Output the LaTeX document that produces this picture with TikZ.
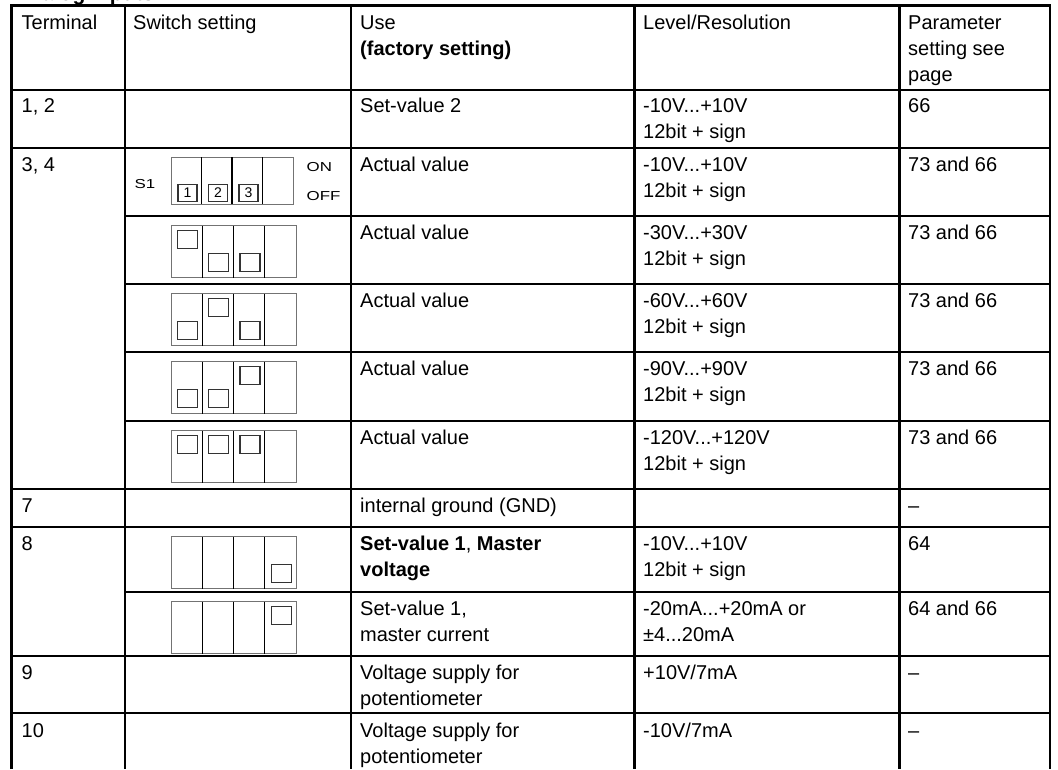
\documentclass[tikz,border=0pt]{standalone}
\usepackage{fontspec}
\setmainfont{Liberation Sans}
\newfontfamily\widefont[FakeStretch=1.3]{Liberation Sans}
\usetikzlibrary{positioning}

\newcommand{\bodyfont}{\fontsize{20}{26}\selectfont}
\newcommand{\swfont}{\widefont\fontsize{13}{15}\selectfont}
\newcommand{\lns}[1]{\begin{tabular}[t]{@{}l@{}}#1\end{tabular}}

% dip switch: #1 = top edge, #2 = lever/offset pairs
\newcommand{\dipswitch}[2]{%
  \draw[swbox] (171,#1) rectangle (296,#1+52);
  \foreach \k in {1,2,3}
    \draw[swdiv] (171+31.25*\k,#1) -- (171+31.25*\k,#1+52);
  \foreach \k/\dy in {#2}
    \draw[swkey] (171+31.25*\k-24.75,#1+\dy) rectangle ++(20,18);
}

\begin{document}
\begin{tikzpicture}[x=1pt,y=-1pt]
  \tikzset{grid/.style={line width=2.7pt},
           cell/.style={anchor=base west,inner sep=0pt,font=\bodyfont},
           swbox/.style={draw=black!55,line width=1pt},
           swdiv/.style={line width=1.2pt},
           swkey/.style={draw=black!80,line width=1.2pt},
           numkey/.style={draw=black!80,line width=1.2pt,minimum width=19pt,minimum height=17pt,inner sep=0pt,font=\fontsize{14}{16}\selectfont}}
  \useasboundingbox (0,0) rectangle (1058,769);

  % heading, cut off by the page edge
  \begin{scope}
    \clip (0,0) rectangle (1058,769);
    \node[anchor=base west,inner sep=0pt,font=\bfseries\fontsize{21}{26}\selectfont] (title) at (14,0) {Analog inputs};
  \end{scope}

  % table rules
  \draw[grid] (11.7,769) -- (11.7,5.5) -- (1050,5.5) -- (1050,769);
  \foreach \x in {125,351,634.5,899.5}
    \draw[grid] (\x,5.5) -- (\x,769);
  \foreach \y in {90,148,489,527,656,713}
    \draw[grid] (11.7,\y) -- (1050,\y);
  \foreach \y in {216,284,352,421,592}
    \draw[grid] (125,\y) -- (1050,\y);

  % header
  \node[cell] (hTerm)   at (21.5,29.5) {Terminal};
  \node[cell] (hSwitch) at (133,29.5)  {Switch setting};
  \node[cell] (hUse)    at (360,29.5)  {\lns{Use\\\textbf{(factory setting)}}};
  \node[cell] (hLevel)  at (643,29.5)  {Level/Resolution};
  \node[cell] (hParam)  at (908,29.5)  {\lns{Parameter\\setting see\\page}};

  % terminals 1, 2
  \node[cell] (t12) at (21.5,112.5) {1, 2};
  \node[cell] (u12) at (360,112.5)  {Set-value 2};
  \node[cell] (l12) at (643,112.5)  {\lns{-10V...+10V\\12bit + sign}};
  \node[cell] (p12) at (908,112.5)  {66};

  % terminals 3, 4 with switch S1
  \node[cell] (t34) at (21.5,171) {3, 4};
  \node[font=\swfont,inner sep=0pt] (s1) at (145,184) {S1};
  \draw[swbox] (171,157) rectangle (293,204);
  \foreach \k in {1,2,3}
    \draw[swdiv] (171+30.5*\k,157) -- (171+30.5*\k,204);
  \node[numkey] (k1) at (187.5,193) {1};
  \node[numkey] (k2) at (218,193)   {2};
  \node[numkey] (k3) at (248.5,193) {3};
  \node[font=\swfont,inner sep=0pt,anchor=west] (on)  at (306.5,166.7) {ON};
  \node[font=\swfont,inner sep=0pt,anchor=west] (off) at (306.5,196)   {OFF};
  \node[cell] (u34a) at (360,171) {Actual value};
  \node[cell] (l34a) at (643,171) {\lns{-10V...+10V\\12bit + sign}};
  \node[cell] (p34a) at (908,171) {73 and 66};

  \dipswitch{225.5}{1/5,2/28,3/28}
  \node[cell] (u34b) at (360,239) {Actual value};
  \node[cell] (l34b) at (643,239) {\lns{-30V...+30V\\12bit + sign}};
  \node[cell] (p34b) at (908,239) {73 and 66};

  \dipswitch{293.5}{1/28,2/5,3/28}
  \node[cell] (u34c) at (360,307) {Actual value};
  \node[cell] (l34c) at (643,307) {\lns{-60V...+60V\\12bit + sign}};
  \node[cell] (p34c) at (908,307) {73 and 66};

  \dipswitch{361.5}{1/28,2/28,3/5}
  \node[cell] (u34d) at (360,375) {Actual value};
  \node[cell] (l34d) at (643,375) {\lns{-90V...+90V\\12bit + sign}};
  \node[cell] (p34d) at (908,375) {73 and 66};

  \dipswitch{430.5}{1/5,2/5,3/5}
  \node[cell] (u34e) at (360,444) {Actual value};
  \node[cell] (l34e) at (643,444) {\lns{-120V...+120V\\12bit + sign}};
  \node[cell] (p34e) at (908,444) {73 and 66};

  % terminal 7
  \node[cell] (t7) at (21.5,512) {7};
  \node[cell] (u7) at (360,512)  {internal ground (GND)};
  \node[cell] (p7) at (908,512)  {--};

  % terminal 8
  \node[cell] (t8) at (21.5,550) {8};
  \dipswitch{536.5}{4/28}
  \node[cell] (u8a) at (360,550) {\lns{\textbf{Set-value 1}, \textbf{Master}\\\textbf{voltage}}};
  \node[cell] (l8a) at (643,550) {\lns{-10V...+10V\\12bit + sign}};
  \node[cell] (p8a) at (908,550) {64};

  \dipswitch{601.5}{4/5}
  \node[cell] (u8b) at (360,615.5) {\lns{Set-value 1,\\master current}};
  \node[cell] (l8b) at (643,615.5) {\lns{-20mA...+20mA or\\±4...20mA}};
  \node[cell] (p8b) at (908,615.5) {64 and 66};

  % terminals 9 and 10
  \node[cell] (t9) at (21.5,679) {9};
  \node[cell] (u9) at (360,679)  {\lns{Voltage supply for\\potentiometer}};
  \node[cell] (l9) at (643,679)  {+10V/7mA};
  \node[cell] (p9) at (908,679)  {--};

  \node[cell] (t10) at (21.5,737) {10};
  \node[cell] (u10) at (360,737)  {\lns{Voltage supply for\\potentiometer}};
  \node[cell] (l10) at (643,737)  {-10V/7mA};
  \node[cell] (p10) at (908,737)  {--};
\end{tikzpicture}
\end{document}
